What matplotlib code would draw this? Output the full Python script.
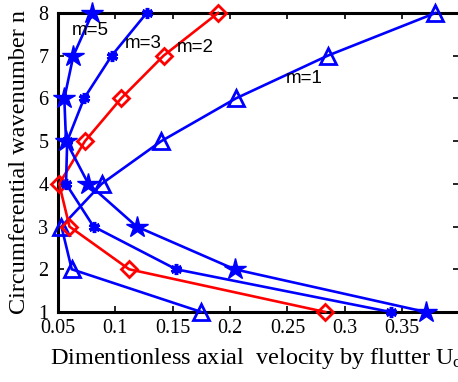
import matplotlib
matplotlib.use("Agg")
import matplotlib.pyplot as plt

n = [1, 2, 3, 4, 5, 6, 7, 8]
u_m1 = [0.175, 0.062, 0.053, 0.088, 0.140, 0.205, 0.285, 0.379]
u_m2 = [0.283, 0.112, 0.060, 0.051, 0.0735, 0.105, 0.142, 0.1895]
u_m3 = [0.340, 0.153, 0.081, 0.057, 0.058, 0.0727, 0.0968, 0.1273]
u_m5 = [0.3706, 0.204, 0.1186, 0.0765, 0.057, 0.0555, 0.0634, 0.080]

xticks = [0.05, 0.1, 0.15, 0.2, 0.25, 0.3, 0.35]
xticklabels = ["0.05", "0.1", "0.15", "0.2", "0.25", "0.3", "0.35"]
yticks = [1, 2, 3, 4, 5, 6, 7, 8]

labels = ["m=5", "m=3", "m=2", "m=1"]
label_pos = [(0.0622, 7.6), (0.1084, 7.28), (0.1538, 7.2), (0.2488, 6.46)]

plt.rcParams['mathtext.fontset'] = 'custom'
plt.rcParams['mathtext.rm'] = 'Liberation Serif'
plt.rcParams['mathtext.it'] = 'Liberation Serif:italic'

fig = plt.figure(figsize=(4.58, 3.82), dpi=100)
ax = fig.add_axes([58/458, 70/382, 401.5/458, 299/382])

lw = 1.9
ax.plot(u_m1, n, color='blue', lw=lw, marker='^', ms=11, mfc='none', mec='blue', mew=2, clip_on=False, zorder=3)
ax.plot(u_m2, n, color='red', lw=lw, marker='D', ms=8.5, mfc='none', mec='red', mew=2, clip_on=False, zorder=3)
ax.plot(u_m3, n, color='blue', lw=lw, marker=(6, 2, 0), ms=8, mec='blue', mew=2.5, clip_on=False, zorder=3)
ax.plot(u_m5, n, color='blue', lw=lw, marker='*', ms=16, mfc='blue', mec='blue', clip_on=False, zorder=3)

for t, (x, y) in zip(labels, label_pos):
    ax.text(x, y, t, fontsize=13.5, family='Liberation Sans', ha='left', va='center')

ax.set_xlim(0.05, 0.4)
ax.set_ylim(1, 8)
ax.set_xticks(xticks)
ax.set_xticklabels(xticklabels)
ax.set_yticks(yticks)
ax.tick_params(direction='in', top=True, right=True, length=4, width=1.2,
               labelsize=14.5, pad=5)
ax.tick_params(axis='y', pad=7)
for lab in ax.get_xticklabels() + ax.get_yticklabels():
    lab.set_family('Liberation Serif')
for s in ax.spines.values():
    s.set_linewidth(2.2)

ax.set_xlabel(r"Dimentionless axial  velocity by flutter U$_{\rm cr}$",
              fontsize=17.5, family='Liberation Serif', labelpad=6)
ax.set_ylabel("Circumferential wavenumber n", fontsize=17.5, family='Liberation Serif', labelpad=6)

fig.savefig("out.png", dpi=100)
